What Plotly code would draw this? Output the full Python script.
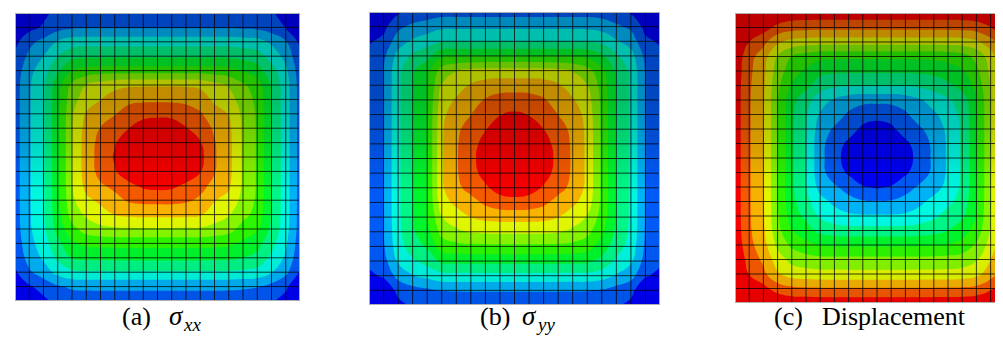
import numpy as np
import plotly.graph_objects as go

W, H = 1003, 338

# ---- data -----------------------------------------------------------------
# Contour level (0 = dark blue ... 11 = red, 12 bands) sampled at the 21 mesh
# nodes along the horizontal centre line (left -> right) and the vertical
# centre line (top -> bottom) of each plate.
sxx_row = [1.55, 2.9, 3.9, 5.7, 8.0, 9.5, 10.37, 11.1, 11.8, 12.2, 12.35,
           12.25, 11.85, 11.3, 10.1, 9.33, 7.85, 6.9, 4.95, 3.5, 1.6]
sxx_col = [1.5, 1.9, 3.6, 4.85, 6.55, 8.9, 9.8, 10.8, 11.55, 12.1, 12.35,
           12.1, 11.3, 10.3, 9.25, 7.9, 6.35, 5.25, 3.9, 2.2, 1.5]

syy_row = [1.55, 2.0, 3.8, 5.0, 6.0, 8.9, 9.9, 10.75, 11.45, 12.0, 12.2,
           12.0, 11.5, 10.75, 9.85, 8.8, 6.8, 4.9, 3.85, 1.95, 1.5]
syy_col = [1.6, 2.8, 4.0, 6.0, 8.4, 9.55, 10.45, 11.15, 11.7, 12.05, 12.2,
           12.05, 11.6, 10.65, 9.4, 8.2, 6.8, 5.3, 3.7, 2.05, 1.5]

disp_row = [11.6, 10.1, 9.1, 7.05, 5.15, 4.0, 2.3, 1.37, 0.55, -0.1, -0.35,
            -0.1, 0.55, 1.37, 2.2, 3.15, 4.15, 5.8, 7.95, 9.85, 11.6]
disp_col = [11.6, 10.3, 8.4, 6.2, 5.15, 4.05, 2.25, 1.35, 0.55, -0.1, -0.35,
            -0.05, 0.9, 2.05, 3.1, 4.4, 5.85, 7.3, 8.3, 10.1, 11.6]

band_colors = ["rgb(0,0,255)", "rgb(0,93,255)", "rgb(0,185,255)",
               "rgb(0,255,232)", "rgb(0,255,139)", "rgb(0,255,46)",
               "rgb(46,255,0)", "rgb(139,255,0)", "rgb(232,255,0)",
               "rgb(255,185,0)", "rgb(255,93,0)", "rgb(255,0,0)"]

captions = ["(a)", "(b)", "(c)"]
sigma_subs = ["xx", "yy"]
# ---------------------------------------------------------------------------

N_EL = 20
nodes = [i / N_EL for i in range(N_EL + 1)]


def build_field(row, col, invert=False):
    """Node table from the two centre-line profiles (round core, squircle rim)."""
    r = np.asarray(row, float)
    c = np.asarray(col, float)
    ref = r.min() if invert else r.max()
    dh = np.abs(r - ref)[None, :]
    dv = np.abs(c - ref)[:, None]
    m = np.maximum(dh, dv)
    p = np.minimum(4.5, 1.0 + 0.5 * np.maximum(0.0, m - 1.0))
    d = (dh ** p + dv ** p) ** (1.0 / p)
    return (ref + d) if invert else (ref - d)


colorscale = [[k / 11, col] for k, col in enumerate(band_colors)]

panels = [
    dict(row=sxx_row, col=sxx_col, inv=False, x0=7, x1=292, y0=5, y1=293, plate_w=285),
    dict(row=syy_row, col=syy_col, inv=False, x0=361, x1=652, y0=4, y1=297, plate_w=291),
    dict(row=disp_row, col=disp_col, inv=True, x0=727, x1=1003, y0=5, y1=295, plate_w=284),
]

shade = [[0, "rgba(0,0,0,0.26)"], [0.3, "rgba(0,0,0,0.24)"],
         [0.45, "rgba(0,0,0,0.16)"], [0.6, "rgba(0,0,0,0.04)"],
         [0.7, "rgba(0,0,0,0.03)"], [1, "rgba(0,0,0,0.1)"]]

fig = go.Figure()
layout_axes = {}
for i, pn in enumerate(panels):
    k = "" if i == 0 else str(i + 1)
    xa, ya = "x" + k, "y" + k
    z = build_field(pn["row"], pn["col"], pn["inv"])
    fig.add_trace(go.Contour(
        x=nodes, y=nodes, z=z, xaxis=xa, yaxis=ya,
        autocontour=False,
        contours=dict(start=1, end=11, size=1, coloring="fill", showlines=False),
        line=dict(width=0, smoothing=1.3),
        colorscale=colorscale, showscale=False, hoverinfo="skip"))
    # lighting (darker toward the top)
    fig.add_trace(go.Scatter(
        x=[0, 1, 1, 0, 0], y=[0, 0, 1, 1, 0], xaxis=xa, yaxis=ya,
        mode="lines", line=dict(width=0), fill="toself",
        fillgradient=dict(type="vertical", start=0, stop=1, colorscale=shade),
        hoverinfo="skip", showlegend=False))
    # mesh
    mx, my = [], []
    for t in nodes:
        mx += [t, t, None]
        my += [0, 1, None]
        mx += [0, 1, None]
        my += [t, t, None]
    fig.add_trace(go.Scatter(x=mx, y=my, xaxis=xa, yaxis=ya, mode="lines",
                             line=dict(color="rgba(0,0,0,0.75)", width=1),
                             hoverinfo="skip", showlegend=False))
    fig.add_trace(go.Scatter(x=[0, 1, 1, 0, 0], y=[0, 0, 1, 1, 0], xaxis=xa, yaxis=ya,
                             mode="lines", line=dict(color="rgb(175,175,175)", width=2),
                             hoverinfo="skip", showlegend=False))
    xr = [0, (pn["x1"] - pn["x0"]) / pn["plate_w"]]
    layout_axes["xaxis" + k] = dict(domain=[pn["x0"] / W, pn["x1"] / W], range=xr,
                                    visible=False, anchor=ya, fixedrange=True)
    layout_axes["yaxis" + k] = dict(domain=[1 - pn["y1"] / H, 1 - pn["y0"] / H],
                                    range=[1, 0], visible=False, anchor=xa,
                                    fixedrange=True)

fig.update_layout(**layout_axes)

FONT = "Liberation Serif"
ann = []


def add_text(text, px, py, size, italic=False):
    ann.append(dict(text=("<i>%s</i>" % text) if italic else text,
                    x=px / W, y=1 - py / H, xref="paper", yref="paper",
                    xanchor="left", yanchor="middle", showarrow=False,
                    font=dict(family=FONT, size=size, color="black")))


cap_x = [112, 470, 764]
term_x = [159, 512, 812]
for i in range(3):
    add_text(captions[i], cap_x[i], 308, 26)
add_text("Displacement", term_x[2], 308, 26)
for i in range(2):
    add_text("σ", term_x[i], 308, 27, italic=True)
    add_text(sigma_subs[i], term_x[i] + 14, 316, 19, italic=True)

fig.update_layout(width=W, height=H, margin=dict(l=0, r=0, t=0, b=0),
                  paper_bgcolor="white", plot_bgcolor="white",
                  showlegend=False, annotations=ann)

fig.write_html("out.html")
